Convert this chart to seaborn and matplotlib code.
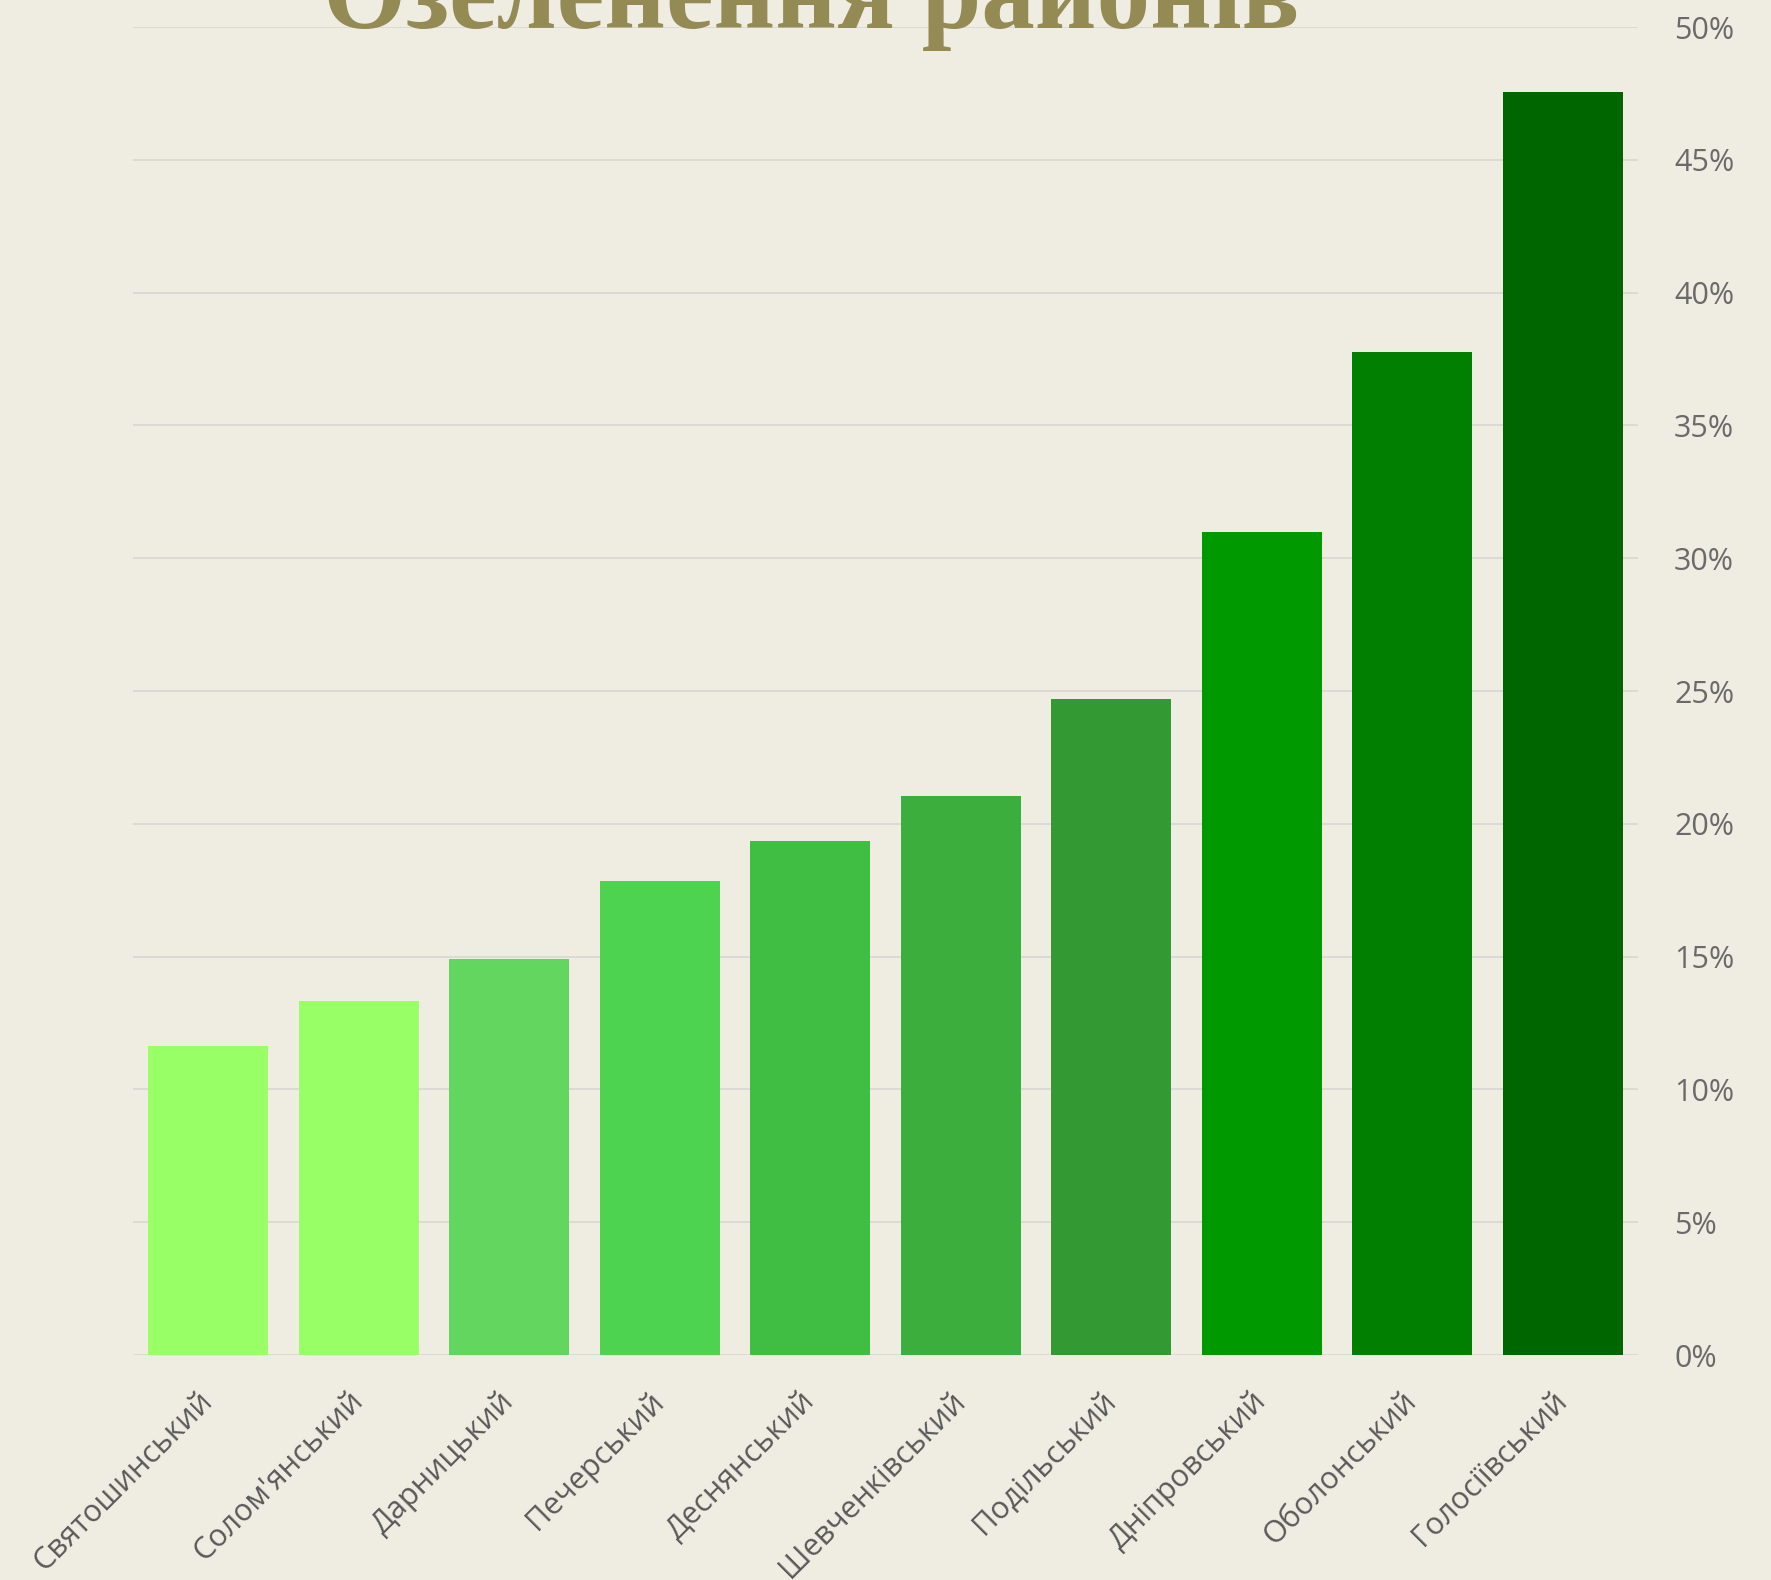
import matplotlib
matplotlib.use("Agg")
import matplotlib.pyplot as plt
import seaborn as sns
import pandas as pd
from matplotlib.ticker import FuncFormatter

districts = ["Святошинський", "Солом'янський", "Дарницький", "Печерський",
             "Деснянський", "Шевченківський", "Подільський", "Дніпровський",
             "Оболонський", "Голосіївський"]
greening = [11.65, 13.33, 14.91, 17.86, 19.34, 21.06, 24.70, 31.0, 37.75, 47.55]
bar_colors = ["#99FF66", "#99FF66", "#62D65E", "#4DD350", "#40BE44",
              "#3CAE3D", "#339933", "#009900", "#007F00", "#006600"]
yticks = [0, 5, 10, 15, 20, 25, 30, 35, 40, 45, 50]
title = "Озеленення районів"

bg = "#EFEDE2"
sns.set_theme(style="white")
plt.rcParams["font.family"] = ["Open Sans", "DejaVu Sans"]

df = pd.DataFrame({"district": districts, "value": greening})

fig = plt.figure(figsize=(17.71, 15.80), dpi=100, facecolor=bg)
ax = fig.add_axes([0.0751, 0.1424, 0.9249 - 0.0751, 0.9829 - 0.1424])
ax.set_facecolor(bg)

sns.barplot(data=df, x="district", y="value", hue="district",
            palette=bar_colors, legend=False, width=0.8, saturation=1,
            linewidth=0, edgecolor="none", ax=ax, zorder=3)

ax.set_ylim(0, 50)
ax.set_xlim(-0.5, len(districts) - 0.5)
ax.set_yticks(yticks)
ax.yaxis.set_major_formatter(FuncFormatter(lambda v, p: f"{v:.0f}%"))
ax.yaxis.tick_right()
ax.yaxis.set_label_position("right")
ax.set_xlabel("")
ax.set_ylabel("")
for s in ax.spines.values():
    s.set_visible(False)
ax.yaxis.grid(True, color="#DDDAD6", linewidth=1.4, zorder=0)
ax.set_axisbelow(True)

ax.tick_params(axis="y", length=0, pad=26, labelsize=22, labelcolor="#6A6A6A")
ax.tick_params(axis="x", length=0, pad=30, labelsize=22, labelcolor="#595959")
for lbl in ax.get_xticklabels():
    lbl.set_rotation(45)
    lbl.set_ha("right")
    lbl.set_va("center")
    lbl.set_rotation_mode("anchor")

fig.text(0.458, 1 - 28 / 1580, title, ha="center", va="baseline",
         fontsize=77, fontweight="bold", color="#948A54",
         family=["Liberation Serif", "DejaVu Serif"])

fig.savefig("out.png", dpi=100, facecolor=bg)
